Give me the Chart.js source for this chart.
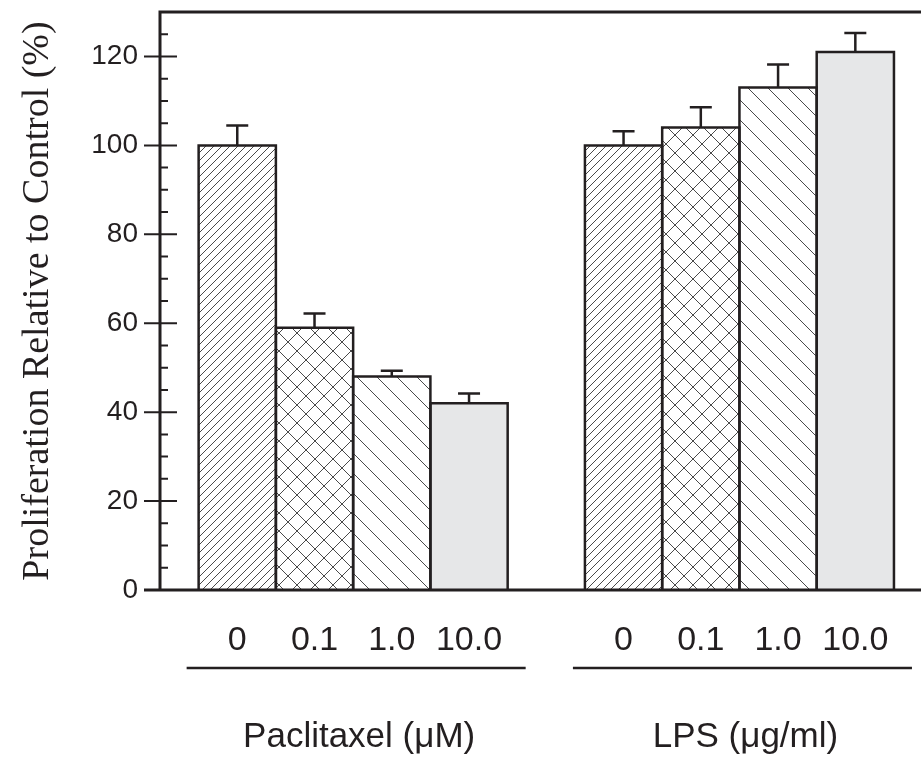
<!DOCTYPE html>
<html>
<head>
<meta charset="utf-8">
<script src="https://cdn.jsdelivr.net/npm/chart.js@4.4.0/dist/chart.umd.min.js"></script>
<style>
  html, body { margin: 0; padding: 0; background: #fff; }
  #wrap { width: 921px; height: 760px; }
</style>
</head>
<body>
<div id="wrap"><canvas id="chart"></canvas></div>
<script>
// datos
var doses = ['0', '0.1', '1.0', '10.0'];
var groups = ['Paclitaxel (\u03bcM)', 'LPS (\u03bcg/ml)'];
var paclitaxel = [100, 59, 48, 42];
var paclitaxelErr = [4.5, 3.2, 1.3, 2.2];
var lps = [100, 104, 113, 121];
var lpsErr = [3.2, 4.6, 5.2, 4.3];
var positions = [0, 1, 2, 3, 5, 6, 7, 8]; // hueco de una barra entre los grupos
var yTicks = [0, 20, 40, 60, 80, 100, 120];

var values = paclitaxel.concat(lps);
var errors = paclitaxelErr.concat(lpsErr);
var ink = '#231f20';

// tramas de relleno
function makePattern(kind, s) {
  var c = document.createElement('canvas');
  c.width = s; c.height = s;
  var g = c.getContext('2d');
  g.fillStyle = '#fff';
  g.fillRect(0, 0, s, s);
  g.strokeStyle = '#4a4a4a';
  g.lineWidth = 1;
  g.beginPath();
  if (kind === 'fwd' || kind === 'cross') {
    g.moveTo(-1, s + 1); g.lineTo(s + 1, -1);
    g.moveTo(-1, 1); g.lineTo(1, -1);
    g.moveTo(s - 1, s + 1); g.lineTo(s + 1, s - 1);
  }
  if (kind === 'back' || kind === 'cross') {
    g.moveTo(-1, -1); g.lineTo(s + 1, s + 1);
    g.moveTo(s - 1, -1); g.lineTo(s + 1, 1);
    g.moveTo(-1, s - 1); g.lineTo(1, s + 1);
  }
  g.stroke();
  return g.createPattern(c, 'repeat');
}
var fills = [makePattern('fwd', 8), makePattern('cross', 18), makePattern('back', 20), '#e6e7e8'];

var points = positions.map(function (p, i) { return { x: p, y: values[i] }; });

// contorno de las barras y barras de error
var outlines = {
  id: 'outlines',
  afterDatasetsDraw: function (chart) {
    var meta = chart.getDatasetMeta(0);
    var y = chart.scales.y;
    var ctx = chart.ctx;
    ctx.save();
    ctx.strokeStyle = ink;
    ctx.lineWidth = 2.5;
    ctx.lineJoin = 'miter';
    meta.data.forEach(function (bar, i) {
      var l = bar.x - bar.width / 2;
      var r = bar.x + bar.width / 2;
      ctx.beginPath();
      ctx.moveTo(l, bar.base);
      ctx.lineTo(l, bar.y);
      ctx.lineTo(r, bar.y);
      ctx.lineTo(r, bar.base);
      ctx.stroke();

      var top = y.getPixelForValue(values[i] + errors[i]);
      ctx.beginPath();
      ctx.moveTo(bar.x, bar.y);
      ctx.lineTo(bar.x, top);
      ctx.moveTo(bar.x - 11, top);
      ctx.lineTo(bar.x + 11, top);
      ctx.stroke();
    });
    ctx.restore();
  }
};

// ejes, marcas y rotulos de grupo
var frame = {
  id: 'frame',
  afterDraw: function (chart) {
    var a = chart.chartArea;
    var x = chart.scales.x;
    var y = chart.scales.y;
    var ctx = chart.ctx;
    ctx.save();
    ctx.strokeStyle = ink;
    ctx.lineCap = 'butt';
    ctx.lineWidth = 3;
    ctx.beginPath();
    ctx.moveTo(a.left, a.bottom + 1.5);
    ctx.lineTo(a.left, a.top);
    ctx.moveTo(a.left - 1.5, a.top);
    ctx.lineTo(a.right, a.top);
    ctx.moveTo(a.left - 16, a.bottom);
    ctx.lineTo(a.right, a.bottom);
    ctx.stroke();

    ctx.lineWidth = 2;
    ctx.beginPath();
    for (var v = 5; v < y.max; v += 5) {
      var py = y.getPixelForValue(v);
      if (yTicks.indexOf(v) >= 0) {
        ctx.moveTo(a.left - 16, py);
        ctx.lineTo(a.left + 17, py);
      } else {
        ctx.moveTo(a.left, py);
        ctx.lineTo(a.left + 8, py);
      }
    }
    ctx.stroke();

    ctx.lineWidth = 2.5;
    ctx.fillStyle = ink;
    ctx.font = '35px "Liberation Sans", Arial, sans-serif';
    ctx.textAlign = 'center';
    ctx.textBaseline = 'alphabetic';
    groups.forEach(function (name, gi) {
      var first = positions[gi * 4];
      var last = positions[gi * 4 + 3];
      var x0 = x.getPixelForValue(first - 0.5) - 12;
      var x1 = x.getPixelForValue(last + 0.5) + 18;
      ctx.beginPath();
      ctx.moveTo(x0, a.bottom + 78);
      ctx.lineTo(x1, a.bottom + 78);
      ctx.stroke();
      ctx.fillText(name, (x0 + x1) / 2 + 3, a.bottom + 157);
    });
    ctx.restore();
  }
};

var ctx = document.getElementById('chart').getContext('2d');
new Chart(ctx, {
  type: 'bar',
  data: {
    datasets: [{
      data: points,
      backgroundColor: function (c) { return fills[c.dataIndex % 4]; },
      borderWidth: 0,
      categoryPercentage: 1,
      barPercentage: 1
    }]
  },
  options: {
    responsive: true,
    maintainAspectRatio: false,
    animation: false,
    layout: { padding: { top: 12, right: 0, left: 0, bottom: 0 } },
    plugins: { legend: { display: false }, tooltip: { enabled: false } },
    scales: {
      x: {
        type: 'linear',
        offset: false,
        min: -1,
        max: 8.85,
        grid: { display: false, drawTicks: false },
        border: { display: false },
        afterBuildTicks: function (s) {
          s.ticks = positions.map(function (p) { return { value: p }; });
        },
        afterFit: function (s) {
          s.height = 170;
          s.paddingLeft = 0;
          s.paddingRight = 0;
        },
        ticks: {
          padding: 30,
          color: ink,
          font: { family: '"Liberation Sans", Arial, sans-serif', size: 34 },
          callback: function (v) {
            var i = positions.indexOf(v);
            return i < 0 ? '' : doses[i % 4];
          }
        }
      },
      y: {
        min: 0,
        max: 130,
        grid: { display: false, drawTicks: false },
        border: { display: false },
        afterBuildTicks: function (s) {
          s.ticks = yTicks.map(function (v) { return { value: v }; });
        },
        afterFit: function (s) {
          s.width = 160;
          s.paddingTop = 0;
          s.paddingBottom = 0;
        },
        ticks: {
          padding: 22,
          color: ink,
          font: { family: '"Liberation Sans", Arial, sans-serif', size: 28 }
        },
        title: {
          display: true,
          text: 'Proliferation Relative to Control (%)',
          color: ink,
          padding: { top: 15, bottom: 0 },
          font: { family: '"Liberation Serif", "Times New Roman", serif', size: 38, weight: 'normal' }
        }
      }
    }
  },
  plugins: [outlines, frame]
});
</script>
</body>
</html>
